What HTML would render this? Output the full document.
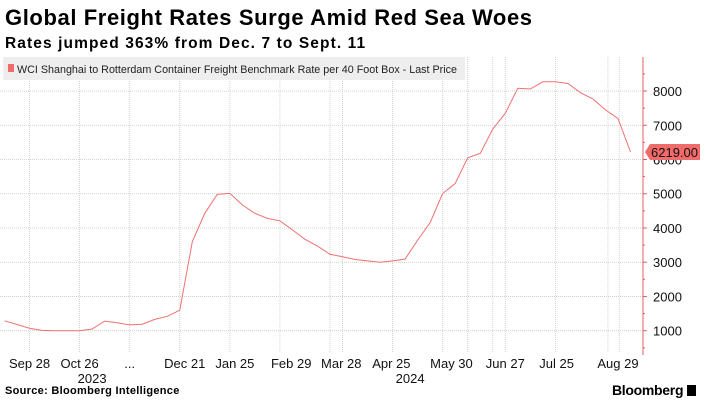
<!DOCTYPE html>
<html><head><meta charset="utf-8"><style>
body{margin:0;background:#fff;font-family:"Liberation Sans",sans-serif;}
#wrap{position:relative;width:705px;height:402px;overflow:hidden;background:#fff}
.t{position:absolute;white-space:nowrap}
</style></head><body>
<div id="wrap">
<div class="t" style="left:5px;top:5px;font-size:22px;font-weight:bold;color:#000;letter-spacing:0.6px">Global Freight Rates Surge Amid Red Sea Woes</div>
<div class="t" style="left:5px;top:35px;font-size:15.5px;font-weight:bold;color:#000;letter-spacing:1.1px">Rates jumped 363% from Dec. 7 to Sept. 11</div>
<svg id="chart" width="705" height="402" style="position:absolute;left:0;top:0"></svg>
<div class="t" style="left:5px;top:385px;font-size:11px;font-weight:bold;color:#000;letter-spacing:0.3px">Source: Bloomberg Intelligence</div>
<div class="t" style="left:612px;top:382px;font-size:14px;font-weight:bold;color:#000;letter-spacing:-0.3px">Bloomberg <span style="display:inline-block;width:9px;height:11px;background:#000;vertical-align:-1px"></span></div>
</div>
<script>
const values=[1290,1180,1070,1010,1000,1000,1000,1050,1280,1230,1170,1190,1330,1420,1600,3600,4430,4980,5010,4670,4430,4280,4210,3940,3670,3470,3230,3160,3080,3040,3000,3040,3090,3650,4160,5010,5300,6050,6180,6890,7350,8080,8060,8270,8270,8220,7950,7770,7450,7200,6219];
const tickLabels=["Sep 28","Oct 26","...","Dec 21","Jan 25","Feb 29","Mar 28","Apr 25","May 30","Jun 27","Jul 25","Aug 29"];
const tickWeeks=[2,6,10,14.4,18.4,22.9,26.9,30.9,35.7,40,44.1,49];
const gridWeeks=[2,6,10,14,18,22,26,27,31,35,37,39,40,44,48.2,49.1];
const yTicks=[1000,2000,3000,4000,5000,6000,7000,8000];
const yearLabels=["2023","2024"];
const yearWeeks=[7,32.4];
const lastValue=6219.00;

const svg=document.getElementById('chart');
const NS='http://www.w3.org/2000/svg';
const xs=w=>4.5+w*12.52;
const ys=v=>330.7-(v-1000)*0.03424;
const axisX=643;
function mk(tag,attrs){const e=document.createElementNS(NS,tag);for(const k in attrs)e.setAttribute(k,attrs[k]);svg.appendChild(e);return e;}

yTicks.forEach(v=>{
  const g=mk('line',{x1:0,x2:axisX,y1:ys(v),y2:ys(v),stroke:'#c8c8c8','stroke-width':0.8,'stroke-dasharray':'1,1'});
  
  
});
gridWeeks.forEach(w=>{
  const g=mk('line',{x1:xs(w),x2:xs(w),y1:57,y2:352,stroke:'#c8c8c8','stroke-width':0.8,'stroke-dasharray':'1,1'});
  
  
});
const lb=mk('rect',{x:3,y:57,width:462,height:23,fill:'#eeeeee'});


const lsw=mk('rect',{x:8,y:64,width:6,height:8,fill:'#f26b6b'});


const lt=mk('text',{x:17,y:73,'font-size':11,fill:'#222','font-family':'Liberation Sans, sans-serif',textLength:440,lengthAdjust:'spacingAndGlyphs'});
lt.textContent='WCI Shanghai to Rotterdam Container Freight Benchmark Rate per 40 Foot Box - Last Price';


const ax=mk('line',{x1:axisX,x2:axisX,y1:57,y2:355,stroke:'#e06060','stroke-width':1});


for(let v=500;v<=8500;v+=500){
  const t=mk('line',{x1:axisX,x2:axisX+(v%1000?2:4),y1:ys(v),y2:ys(v),stroke:'#e06060','stroke-width':1});
  
  
}
yTicks.forEach(v=>{
  const t=mk('text',{x:653,y:ys(v)+5,'font-size':13,fill:'#111','font-family':'Liberation Sans, sans-serif'});
  t.textContent=v;
  
  
});
const pts=values.map((v,i)=>xs(i).toFixed(1)+','+ys(v).toFixed(1)).join(' ');
const pl=mk('polyline',{points:pts,fill:'none',stroke:'#f07070','stroke-width':1});


const ly=ys(lastValue);
const tag=mk('path',{d:`M${axisX+2},${ly} L${axisX+7},${ly-8} H700 V${ly+8} H${axisX+7} Z`,fill:'#f26b6b'});


const tt=mk('text',{x:axisX+8,y:ly+5,'font-size':13,fill:'#111','font-family':'Liberation Sans, sans-serif'});
tt.textContent=lastValue.toFixed(2);


tickLabels.forEach((s,i)=>{
  const t=mk('text',{x:xs(tickWeeks[i]),y:368,'font-size':13,fill:'#111','text-anchor':'middle','font-family':'Liberation Sans, sans-serif'});
  t.textContent=s;
  
  
});
yearLabels.forEach((s,i)=>{
  const t=mk('text',{x:xs(yearWeeks[i]),y:383,'font-size':13,fill:'#111','text-anchor':'middle','font-family':'Liberation Sans, sans-serif'});
  t.textContent=s;
  
  
});
</script>
</body></html>
